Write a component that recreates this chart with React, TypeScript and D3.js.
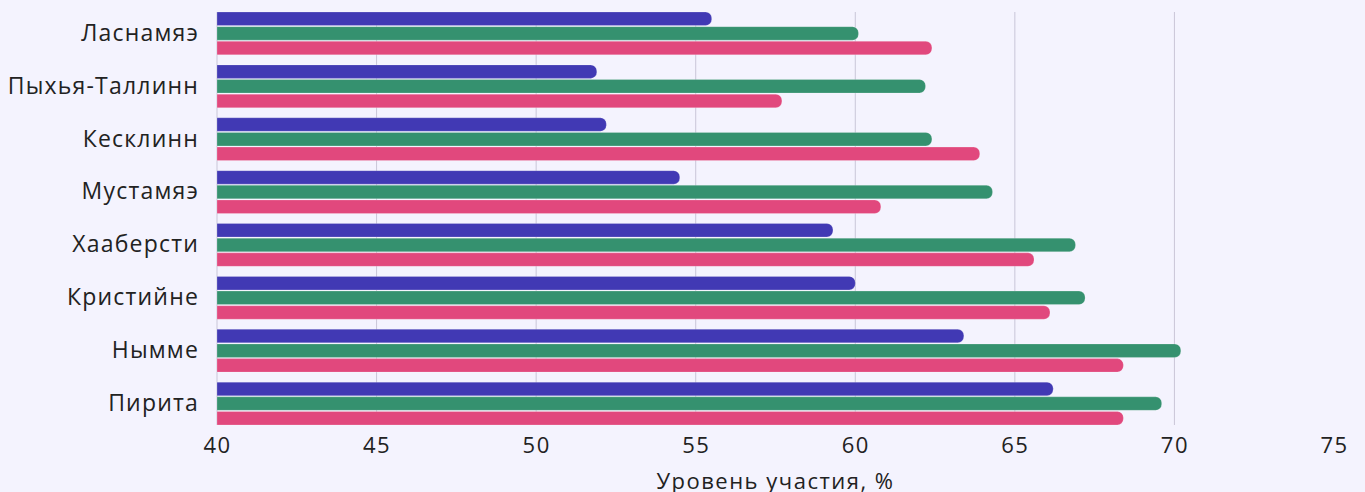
import * as d3 from "d3";
import React, { useRef, useEffect } from "react";

const districts = [
  "Ласнамяэ",
  "Пыхья-Таллинн",
  "Кесклинн",
  "Мустамяэ",
  "Хааберсти",
  "Кристийне",
  "Нымме",
  "Пирита",
];
const seriesKeys = ["a", "b", "c"];
const seriesColors = ["#4139b4", "#35916f", "#e1487d"];
const valuesA = [55.5, 51.9, 52.2, 54.5, 59.3, 60.0, 63.4, 66.2];
const valuesB = [60.1, 62.2, 62.4, 64.3, 66.9, 67.2, 70.2, 69.6];
const valuesC = [62.4, 57.7, 63.9, 60.8, 65.6, 66.1, 68.4, 68.4];
const xTicks = [40, 45, 50, 55, 60, 65, 70, 75];
const xTitle = "Уровень участия, %";

const W = 1365;
const H = 492;
const FONT = "'Open Sans', sans-serif";

function barPath(x0: number, x1: number, y: number, h: number, r: number) {
  const rr = Math.min(r, h / 2, Math.max(0, x1 - x0));
  return `M${x0},${y}H${x1 - rr}A${rr},${rr} 0 0 1 ${x1},${y + rr}V${y + h - rr}A${rr},${rr} 0 0 1 ${x1 - rr},${y + h}H${x0}Z`;
}

function App() {
  const svgRef = useRef<SVGSVGElement>(null);

  useEffect(() => {
    const svg = d3.select(svgRef.current);
    svg.selectAll("*").remove();

    const margin = { left: 217, right: 31, top: 12, bottom: 67 };

    svg.append("rect").attr("width", W).attr("height", H).attr("fill", "#f4f3fe");

    const x = d3.scaleLinear().domain([40, 75]).range([margin.left, W - margin.right]);
    const y = d3
      .scaleBand()
      .domain(districts)
      .range([margin.top, H - margin.bottom])
      .paddingInner(0.19)
      .paddingOuter(0);
    const ySub = d3.scaleBand().domain(seriesKeys).range([0, y.bandwidth()]).paddingInner(0.08);

    // gridlines
    svg
      .append("g")
      .selectAll("line")
      .data(xTicks.filter((t) => t < 75))
      .join("line")
      .attr("x1", (d) => x(d))
      .attr("x2", (d) => x(d))
      .attr("y1", margin.top)
      .attr("y2", H - margin.bottom)
      .attr("stroke", "#c9c6d8")
      .attr("stroke-width", 1);

    const rows = districts.map((d, i) => ({
      name: d,
      vals: [valuesA[i], valuesB[i], valuesC[i]],
    }));

    const groups = svg
      .append("g")
      .selectAll("g")
      .data(rows)
      .join("g")
      .attr("transform", (d) => `translate(0,${y(d.name)})`);

    groups
      .selectAll("path")
      .data((d) => d.vals.map((v, k) => ({ v, k })))
      .join("path")
      .attr("d", (d) => barPath(x(40), x(d.v), ySub(seriesKeys[d.k])!, ySub.bandwidth(), 6))
      .attr("fill", (d) => seriesColors[d.k])
      .attr("stroke", "#ffffff")
      .attr("stroke-opacity", 0.35)
      .attr("stroke-width", 0.6);

    // category labels
    const yAxis = d3.axisLeft(y).tickSize(0).tickPadding(18);
    const gy = svg.append("g").attr("transform", `translate(${margin.left},0)`).call(yAxis);
    gy.select(".domain").remove();
    gy.selectAll("text")
      .attr("font-family", FONT)
      .attr("font-size", 23)
      .attr("letter-spacing", 1.2)
      .attr("fill", "#222222");

    // x axis
    const xAxis = d3.axisBottom(x).tickValues(xTicks).tickSize(0).tickPadding(12);
    const gx = svg.append("g").attr("transform", `translate(0,${H - margin.bottom})`).call(xAxis);
    gx.select(".domain").remove();
    gx.selectAll("text")
      .attr("font-family", FONT)
      .attr("font-size", 22)
      .attr("letter-spacing", 1.5)
      .attr("fill", "#222222");

    svg
      .append("text")
      .attr("x", (x(40) + x(75)) / 2)
      .attr("y", 489)
      .attr("text-anchor", "middle")
      .attr("font-family", FONT)
      .attr("font-size", 22)
      .attr("letter-spacing", 1.5)
      .attr("fill", "#222222")
      .text(xTitle);
  }, []);

  return (
    <div style={{ position: "absolute", left: 0, top: 0 }}>
      <svg ref={svgRef} width={W} height={H} style={{ display: "block" }}></svg>
    </div>
  );
}

export default App;
